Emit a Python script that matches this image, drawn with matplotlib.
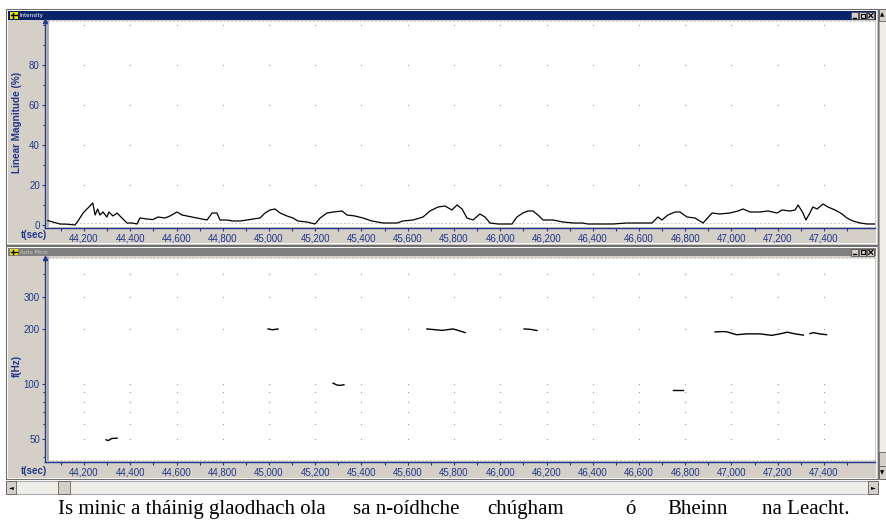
import matplotlib
matplotlib.use("Agg")
import matplotlib.pyplot as plt
from matplotlib.patches import Rectangle
from matplotlib.ticker import FixedLocator, FuncFormatter, NullFormatter

W, H = 886, 520

# Intensity track: time (s) and linear magnitude (%)
int_t = [44.044, 44.066, 44.096, 44.127, 44.161, 44.174, 44.196, 44.217,
         44.238, 44.248, 44.259, 44.269, 44.282, 44.299, 44.308, 44.325,
         44.343, 44.364, 44.386, 44.408, 44.429, 44.442, 44.472, 44.498,
         44.520, 44.550, 44.572, 44.602, 44.624, 44.645, 44.667, 44.689,
         44.710, 44.732, 44.754, 44.775, 44.788, 44.818, 44.844, 44.875,
         44.905, 44.931, 44.961, 44.983, 45.004, 45.026, 45.048, 45.078,
         45.104, 45.125, 45.164, 45.199, 45.221, 45.251, 45.277, 45.316,
         45.337, 45.372, 45.406, 45.445, 45.493, 45.554, 45.579, 45.623,
         45.666, 45.696, 45.731, 45.761, 45.791, 45.813, 45.835, 45.856,
         45.882, 45.912, 45.934, 45.956, 45.990, 46.051, 46.072, 46.098,
         46.120, 46.142, 46.163, 46.185, 46.228, 46.271, 46.315, 46.354,
         46.379, 46.418, 46.488, 46.548, 46.604, 46.656, 46.682, 46.699,
         46.725, 46.756, 46.777, 46.808, 46.842, 46.877, 46.916, 46.950,
         46.994, 47.028, 47.050, 47.080, 47.123, 47.158, 47.197, 47.218,
         47.253, 47.275, 47.288, 47.309, 47.322, 47.339, 47.352, 47.370,
         47.396, 47.417, 47.448, 47.478, 47.499, 47.525, 47.556, 47.586, 47.621]
int_v = [2.2, 1.5, 0.5, 0.4, 0.0, 2.0, 6.0, 8.5,
         11.0, 5.0, 8.0, 5.0, 6.5, 4.0, 6.5, 4.5,
         6.0, 3.5, 1.0, 1.0, 0.5, 3.5, 3.0, 2.7,
         4.0, 3.5, 4.5, 6.5, 5.0, 4.5, 4.0, 3.5,
         3.0, 2.5, 6.0, 6.0, 2.5, 2.5, 2.0, 2.0,
         2.5, 3.0, 3.5, 6.0, 7.5, 8.0, 6.0, 4.5,
         3.5, 2.0, 1.5, 0.5, 3.5, 6.0, 6.5, 7.0,
         5.0, 4.5, 3.5, 2.0, 1.0, 1.0, 2.0, 2.5,
         4.0, 7.0, 9.0, 9.5, 7.5, 10.0, 8.0, 3.5,
         2.5, 5.5, 4.0, 1.0, 0.5, 0.5, 4.0, 6.0,
         7.0, 7.0, 5.0, 2.5, 2.5, 1.5, 1.0, 1.0,
         0.5, 0.5, 0.5, 1.0, 1.0, 1.0, 4.0, 2.5,
         5.0, 6.5, 6.5, 4.0, 3.5, 1.0, 6.0, 5.5,
         6.0, 7.0, 8.0, 6.5, 6.5, 7.0, 6.0, 7.5,
         7.0, 7.5, 10.0, 6.0, 2.5, 6.0, 9.0, 8.0,
         10.5, 9.0, 7.5, 5.5, 3.5, 2.0, 1.0, 0.5, 0.5]

# Auto pitch: voiced segments, time (s) and f0 (Hz)
pitch_t = [
    [44.295, 44.305, 44.320, 44.343],
    [44.996, 45.015, 45.039],
    [45.277, 45.295, 45.310, 45.324],
    [45.683, 45.720, 45.748, 45.796, 45.820, 45.848],
    [46.103, 46.130, 46.159],
    [46.747, 46.790],
    [46.929, 46.960, 46.979, 47.022, 47.066, 47.123, 47.174, 47.210, 47.241, 47.275, 47.311],
    [47.339, 47.354, 47.380, 47.411],
]
pitch_f = [
    [49.5, 49.0, 50.3, 50.5],
    [200, 198, 200],
    [101, 98.5, 98.3, 99],
    [200, 198, 196.4, 200, 196, 191],
    [200, 199, 196],
    [92.4, 92.4],
    [192.6, 193.5, 193, 186, 188, 188, 184.5, 188, 192, 188, 185],
    [188.5, 191, 188, 186],
]

x_major = [44.2, 44.4, 44.6, 44.8, 45.0, 45.2, 45.4, 45.6, 45.8,
           46.0, 46.2, 46.4, 46.6, 46.8, 47.0, 47.2, 47.4]
x_minor = [44.1, 44.3, 44.5, 44.7, 44.9, 45.1, 45.3, 45.5, 45.7, 45.9,
           46.1, 46.3, 46.5, 46.7, 46.9, 47.1, 47.3, 47.5]
int_yticks = [0, 20, 40, 60, 80]
int_yminor = [10, 30, 50, 70, 90, 100]
int_grid_y = [20, 40, 60, 80, 100]
pitch_yticks = [50, 100, 200, 300]
pitch_yminor = [40, 60, 70, 80, 90, 400]
pitch_grid_y = [50, 60, 70, 80, 90, 100, 200, 300, 400]

caption = [("Is minic a tháinig glaodhach ola", 58), ("sa n-oídhche", 353),
           ("chúgham", 487), ("ó", 625), ("Bheinn", 667), ("na Leacht.", 762)]

NAVY = "#22388a"
GREY = "#d4d0c8"
tick_font = ["Liberation Sans Narrow", "Liberation Sans", "DejaVu Sans"]


def box(x0, y0, x1, y1):
    # pixel box -> figure fraction rect
    return [x0 / W, 1 - y1 / H, (x1 - x0) / W, (y1 - y0) / H]


def px_to_t(px):
    return 44.2 + (px - 84) / 231.25


fig = plt.figure(figsize=(W / 100, H / 100), dpi=100)
fig.patch.set_facecolor("white")

bg = fig.add_axes([0, 0, 1, 1])
bg.set_xlim(0, W)
bg.set_ylim(H, 0)
bg.axis("off")


def rect(x0, y0, x1, y1, fc, ec="none", lw=0.8, z=1):
    bg.add_patch(Rectangle((x0, y0), x1 - x0, y1 - y0, facecolor=fc,
                           edgecolor=ec, linewidth=lw, zorder=z))


# window frames
rect(6, 8.5, 878, 244.5, GREY, "#6e6e6e")
rect(6, 245.5, 878, 479, GREY, "#6e6e6e")
rect(7.5, 10, 876.5, 243, "none", "white", 0.6)
rect(7.5, 247, 876.5, 477.5, "none", "white", 0.6)

# title bars
for y0, y1, col, name, tcol in [(11, 19.5, "#0a246a", "Intensity", "white"),
                                (248, 256, "#808080", "Auto Pitch", "#c8c8c8")]:
    rect(8, y0, 876, y1, col, z=2)
    rect(10, y0 + 1, 18, y1 - 1, "#f0e000", z=3)
    bg.plot([11, 17], [(y0 + y1) / 2] * 2, color="black", lw=1, zorder=4)
    bg.plot([13, 13], [y0 + 2, y1 - 2], color="black", lw=1, zorder=4)
    bg.text(20, (y0 + y1) / 2, name, color=tcol, fontsize=4, va="center",
            ha="left", zorder=4)
    for i, bx in enumerate([851, 859, 867]):
        rect(bx, y0 + 1, bx + 7.5, y1 - 0.5, GREY, "#404040", 0.5, z=3)
        cx, cy = bx + 3.75, (y0 + y1) / 2 + 0.3
        if i == 0:
            bg.plot([cx - 2, cx + 1.5], [cy + 2, cy + 2], color="black", lw=1, zorder=4)
        elif i == 1:
            rect(cx - 2, cy - 2, cx + 2, cy + 2, "none", "black", 0.8, z=4)
        else:
            bg.plot([cx - 2, cx + 2], [cy - 2, cy + 2], color="black", lw=0.9, zorder=4)
            bg.plot([cx - 2, cx + 2], [cy + 2, cy - 2], color="black", lw=0.9, zorder=4)

# plot backgrounds
rect(48, 21, 875, 227, "white", z=2)
rect(48, 258, 875, 461, "white", z=2)

# horizontal scroll bar
rect(6, 481, 878, 494, "#eeede8", "#9a9a9a", 0.6)
rect(6, 481, 16, 494, GREY, "#606060", 0.6, z=2)
bg.text(11, 488, "◄", fontsize=4.5, ha="center", va="center", zorder=3)
rect(58, 481, 70, 494, GREY, "#606060", 0.6, z=2)
rect(868, 481, 878, 494, GREY, "#606060", 0.6, z=2)
bg.text(873, 488, "►", fontsize=4.5, ha="center", va="center", zorder=3)

# vertical scroll bar on the right
rect(879, 9, 886, 479, "#eeede8", "#9a9a9a", 0.6)
rect(879, 9, 886, 21, GREY, "#606060", 0.6, z=2)
bg.text(882.5, 15, "▲", fontsize=4, ha="center", va="center", zorder=3)
rect(879, 452, 886, 466, GREY, "#606060", 0.6, z=2)
rect(879, 466, 886, 479, GREY, "#606060", 0.6, z=2)
bg.text(882.5, 473, "▼", fontsize=4, ha="center", va="center", zorder=3)

# axis titles
bg.text(17, 122, "Linear Magnitude (%)", rotation=90, color=NAVY, fontsize=7.2,
        fontweight="bold", ha="center", va="center", family="Liberation Sans", zorder=5)
bg.text(17, 366, "f(Hz)", rotation=90, color=NAVY, fontsize=7.2,
        fontweight="bold", ha="center", va="center", family="Liberation Sans", zorder=5)
for yy in (235.5, 471.5):
    bg.text(34, yy, "t(sec)", color=NAVY, fontsize=7, fontweight="bold",
            ha="center", va="center", family="Liberation Sans", zorder=5)

# caption under the window
for word, xx in caption:
    bg.text(xx, 514, word, fontsize=15, family="Liberation Serif",
            ha="left", va="baseline", color="black")


def style_axis(ax):
    ax.set_facecolor("none")
    ax.set_xlim(px_to_t(45), px_to_t(875))
    for s in ("top", "right"):
        ax.spines[s].set_visible(False)
    for s in ("left", "bottom"):
        ax.spines[s].set_color(NAVY)
        ax.spines[s].set_linewidth(1.0)
    ax.xaxis.set_major_locator(FixedLocator(x_major))
    ax.xaxis.set_minor_locator(FixedLocator(x_minor))
    ax.xaxis.set_major_formatter(
        FuncFormatter(lambda v, p: f"{v:,.3f}".replace(".", ",")))
    ax.tick_params(which="both", direction="out", colors=NAVY, width=0.8)
    ax.tick_params(which="major", length=2.5, labelsize=7, pad=1.2)
    ax.tick_params(which="minor", length=1.8)
    for lab in ax.get_xticklabels() + ax.get_yticklabels():
        lab.set_family(tick_font)
    # marker at the top of the value axis
    ax.plot(0, 1, marker="^", color=NAVY, ms=3, transform=ax.transAxes,
            clip_on=False, zorder=6)
    # plot area borders
    ax.plot([3 / 830, 3 / 830], [0.01, 1], color="#a0a0a0", lw=1.2,
            transform=ax.transAxes, clip_on=False)
    ax.plot([3 / 830, 1], [1, 1], color="#c8c8c8", lw=0.7, ls=(0, (2, 2)),
            transform=ax.transAxes, clip_on=False)
    ax.plot([1, 1], [0.01, 1], color="#c8c8c8", lw=0.7, ls=(0, (2, 2)),
            transform=ax.transAxes, clip_on=False)


# intensity panel
ax1 = fig.add_axes(box(45, 21, 875, 228))
style_axis(ax1)
ax1.set_ylim(-1.5, 102)
ax1.yaxis.set_major_locator(FixedLocator(int_yticks))
ax1.yaxis.set_minor_locator(FixedLocator(int_yminor))
ax1.yaxis.set_major_formatter(FuncFormatter(lambda v, p: f"{v:g}"))
for lab in ax1.get_yticklabels():
    lab.set_family(tick_font)
ax1.axhline(1, xmin=3 / 830, color="#c8c8c8", lw=0.7, ls=(0, (2, 2)))
gx = [x for x in x_major for _ in int_grid_y]
gy = [y for _ in x_major for y in int_grid_y]
ax1.plot(gx, gy, ls="none", marker="s", ms=0.8, color="#9a9a9a", mew=0)
ax1.plot(int_t, int_v, color="black", lw=0.9)

# pitch panel
ax2 = fig.add_axes(box(45, 258, 875, 462))
style_axis(ax2)
ax2.set_yscale("log", base=2)
ax2.set_ylim(37.4, 489)
ax2.yaxis.set_major_locator(FixedLocator(pitch_yticks))
ax2.yaxis.set_minor_locator(FixedLocator(pitch_yminor))
ax2.yaxis.set_major_formatter(FuncFormatter(lambda v, p: f"{v:g}"))
ax2.yaxis.set_minor_formatter(NullFormatter())
for lab in ax2.get_yticklabels():
    lab.set_family(tick_font)
ax2.plot([3 / 830, 1], [0.012, 0.012], color="#c8c8c8", lw=0.7, ls=(0, (2, 2)),
         transform=ax2.transAxes)
gx = [x for x in x_major for _ in pitch_grid_y]
gy = [y for _ in x_major for y in pitch_grid_y]
ax2.plot(gx, gy, ls="none", marker="s", ms=0.8, color="#9a9a9a", mew=0)
for ts, fs in zip(pitch_t, pitch_f):
    ax2.plot(ts, fs, color="black", lw=1.0)

fig.savefig("out.png", dpi=100)
